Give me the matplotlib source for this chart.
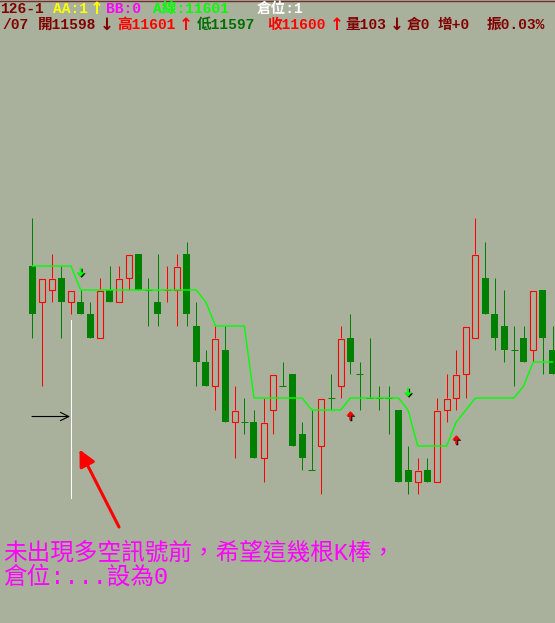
import matplotlib
matplotlib.use("Agg")
import matplotlib.pyplot as plt
from matplotlib.patches import Rectangle, Polygon
from matplotlib.lines import Line2D

# bar data (one point = one price tick)
opens = [11603, 11600, 11601, 11602, 11600, 11600, 11599, 11597, 11601, 11600,
         11602, 11604, 11601, 11600, 11601, 11601, 11604, 11598, 11595, 11593,
         11596, 11590, 11590, 11590, 11587, 11591, 11593, 11594, 11589, 11586,
         11588, 11592, 11593, 11597, 11594, 11592, 11592, 11592, 11591, 11586,
         11585, 11586, 11585, 11591, 11592, 11594, 11597, 11602, 11599, 11598,
         11596, 11597, 11596, 11601, 11596]
highs = [11607, 11602, 11604, 11603, 11601, 11601, 11600, 11602, 11603, 11603,
         11604, 11604, 11602, 11604, 11603, 11604, 11605, 11600, 11596, 11598,
         11598, 11593, 11592, 11591, 11592, 11594, 11595, 11594, 11590, 11591,
         11592, 11594, 11598, 11599, 11595, 11597, 11593, 11593, 11591, 11588,
         11587, 11587, 11592, 11594, 11596, 11598, 11607, 11605, 11602, 11601,
         11598, 11598, 11601, 11601, 11598]
lows = [11597, 11593, 11600, 11597, 11599, 11599, 11597, 11597, 11600, 11600,
        11601, 11601, 11598, 11598, 11600, 11598, 11598, 11593, 11593, 11591,
        11590, 11587, 11589, 11587, 11585, 11589, 11593, 11588, 11586, 11586,
        11584, 11591, 11592, 11594, 11591, 11592, 11591, 11589, 11585, 11584,
        11584, 11585, 11585, 11590, 11591, 11592, 11597, 11599, 11596, 11595,
        11593, 11595, 11595, 11594, 11594]
closes = [11599, 11602, 11602, 11600, 11601, 11599, 11597, 11601, 11600, 11602,
          11604, 11601, 11601, 11599, 11601, 11603, 11599, 11595, 11593, 11597,
          11590, 11591, 11590, 11587, 11590, 11594, 11593, 11588, 11587, 11586,
          11592, 11592, 11597, 11595, 11594, 11592, 11592, 11592, 11585, 11585,
          11586, 11585, 11591, 11592, 11594, 11598, 11604, 11599, 11597, 11596,
          11596, 11595, 11601, 11597, 11594]
a_line = [11603, 11603, 11603, 11603, 11603, 11601, 11601, 11601, 11601, 11601,
          11601, 11601, 11601, 11601, 11601, 11601, 11601, 11601, 11600, 11598,
          11598, 11598, 11598, 11592, 11592, 11592, 11592, 11592, 11592, 11591,
          11591, 11591, 11591, 11592, 11592, 11592, 11592, 11592, 11592, 11591,
          11588, 11588, 11588, 11588, 11590, 11591, 11592, 11592, 11592, 11592,
          11592, 11593, 11595, 11595, 11595]
red_doji = [14]       # doji bars drawn in red, the rest green
short_sig = [5, 39]   # green down arrows
long_sig = [33, 44]   # red up arrows

W, H = 555, 623
BG = '#a9b19d'
RED = '#ff0000'
GREEN = '#008000'
LIME = '#00ff00'
DARKRED = '#800000'

# screen scale of the original: 9.63 px per bar, 12 px per tick
step = 9.63
unit = 12.0
x0 = 32.5
ref_price, ref_y = 11603, 266


def to_data(px, py):
    return (px - x0) / step, ref_price - (py - ref_y) / unit


fig = plt.figure(figsize=(W / 100, H / 100), dpi=100, facecolor=BG)
ax = fig.add_axes([0, 0, 1, 1])
ax.set_facecolor(BG)
ax.set_xlim(-x0 / step, (W - x0) / step)
ax.set_ylim(ref_price - (H - ref_y) / unit, ref_price + ref_y / unit)
ax.axis('off')

lw1 = 0.72  # one pixel
for i, (o, h, l, c) in enumerate(zip(opens, highs, lows, closes)):
    lo, hi = min(o, c), max(o, c)
    if c > o:
        ax.vlines(i, hi, h, color=RED, lw=lw1, zorder=2)
        ax.vlines(i, l, lo, color=RED, lw=lw1, zorder=2)
        ax.add_patch(Rectangle((i - 3 / step, lo + 0.5 / unit), 6 / step,
                               hi - lo - 1 / unit, facecolor=BG,
                               edgecolor=RED, lw=lw1 * 1.1, zorder=3))
    elif c < o:
        ax.vlines(i, l, h, color=GREEN, lw=lw1, zorder=2)
        ax.add_patch(Rectangle((i - 3.5 / step, lo), 7 / step, hi - lo,
                               facecolor=GREEN, edgecolor='none', zorder=3))
    else:
        col = RED if i in red_doji else GREEN
        ax.vlines(i, l, h, color=col, lw=lw1, zorder=2)
        ax.hlines(o, i - 3.5 / step, i + 3.5 / step, color=col, lw=lw1, zorder=3)

ax.plot(range(len(a_line)), a_line, color=LIME, lw=1.0, zorder=4)


def arrow(i, tip, up, color):
    # shape in pixels relative to the tip, y positive = away from tip
    shape = [(0, 0), (-4, 4.5), (-1, 4.5), (-1, 9), (1, 9), (1, 4.5), (4, 4.5)]
    sgn = -1 if up else 1
    for dx, dy, col, z in [(1, -1, 'black', 5), (0, 0, color, 6)]:
        pts = [(i + (sx + dx) / step, tip + sgn * (sy + dy * sgn) / unit)
               for sx, sy in shape]
        ax.add_patch(Polygon(pts, closed=True, facecolor=col,
                             edgecolor='none', zorder=z))


for i in short_sig:
    arrow(i, a_line[i] + 1.1, False, LIME)
for i in long_sig:
    arrow(i, a_line[i] - 1.1, True, RED)

# hand-drawn annotations
wx, wy1 = to_data(70.5, 320)
_, wy2 = to_data(70.5, 498)
ax.plot([wx, wx], [wy1, wy2], color='white', lw=lw1, zorder=5)

ax.annotate('', xy=to_data(70, 416.5), xytext=to_data(32, 416.5),
            arrowprops=dict(arrowstyle='->,head_length=0.6,head_width=0.3',
                            color='black', lw=0.8, shrinkA=0, shrinkB=0,
                            mutation_scale=10), zorder=5)
ax.annotate('', xy=to_data(79.5, 449.5), xytext=to_data(119, 527),
            arrowprops=dict(arrowstyle='-|>,head_length=0.7,head_width=0.35',
                            color=RED, lw=2.2, shrinkA=0, shrinkB=0,
                            mutation_scale=14), zorder=5)

fig.add_artist(Line2D([0, 1], [1 - 0.5 / H] * 2, transform=fig.transFigure,
                      color='#703030', lw=1.0))

hfont = ['Liberation Mono', 'Noto Sans CJK TC']
header = [
    (0, 9, '126-1', DARKRED), (53, 9, 'AA:1', '#ffff00'),
    (106, 9, 'BB:0', '#ff00ff'), (153, 9, 'A線:11601', LIME),
    (257, 9, '倉位:1', 'white'),
    (2, 25, '/07', DARKRED), (38, 25, '開11598', DARKRED),
    (117, 25, '高11601', RED), (197, 25, '低11597', '#006e00'),
    (267, 25, '收11600', RED), (345, 25, '量103', DARKRED),
    (407, 25, '倉0', DARKRED), (438, 25, '增+0', DARKRED),
    (487, 25, '振0.03%', DARKRED),
]
for px, py, s, col in header:
    fig.text(px / W, 1 - py / H, s, color=col, family=hfont, fontsize=10.5,
             fontweight='bold', va='center', ha='left')

# thin tall arrows between header fields
header_arrows = [(97, 9, '↑', '#ffff00'), (107, 25, '↓', DARKRED),
                 (186, 25, '↑', RED), (337, 25, '↑', RED), (397, 25, '↓', DARKRED)]
for px, py, s, col in header_arrows:
    fig.text(px / W, 1 - py / H, s, color=col, family='DejaVu Sans',
             fontsize=12, fontweight='bold', va='center', ha='center')

note_font = ['Liberation Mono', 'Noto Sans CJK TC']
fig.text(3 / W, 1 - 553 / H, '未出現多空訊號前，希望這幾根K棒，', color='#ff00ff',
         family=note_font, fontsize=17, va='center', ha='left')
fig.text(3 / W, 1 - 577 / H, '倉位:...設為0', color='#ff00ff',
         family=note_font, fontsize=17, va='center', ha='left')

fig.savefig('out.png', dpi=100, facecolor=BG)
